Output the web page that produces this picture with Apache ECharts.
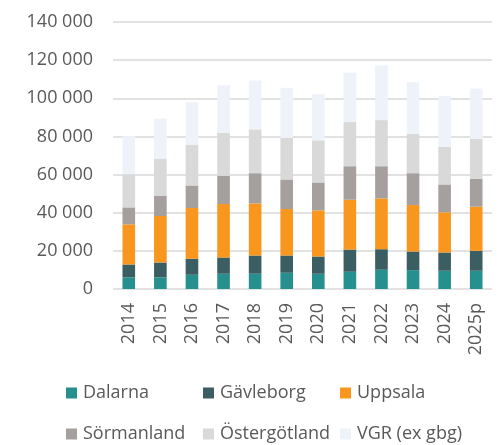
<!DOCTYPE html>
<html>
<head>
<meta charset="utf-8">
<script src="https://cdn.jsdelivr.net/npm/echarts@6/dist/echarts.min.js"></script>
<style>html,body{margin:0;padding:0;background:#fff;}#c{width:501px;height:445px;}</style>
</head>
<body>
<div id="c"></div>
<script>
var categories = ['2014','2015','2016','2017','2018','2019','2020','2021','2022','2023','2024','2025p'];
var dalarna      = [6100, 6100, 7470, 7990, 7990, 8510, 7990, 9030, 10080, 9900, 9560, 9560];
var gavleborg    = [6750, 7800, 8350, 8530, 9570, 9050, 9050, 11660, 10790, 9750, 9570, 10440];
var uppsala      = [21050, 24370, 26630, 28030, 27330, 24370, 24200, 26110, 26630, 24370, 21070, 23150];
var sormanland   = [8900, 10600, 11840, 14790, 15840, 15490, 14620, 17580, 16880, 16710, 14620, 14620];
var ostergotland = [17400, 19500, 21230, 22450, 22980, 21760, 22100, 23150, 24190, 20540, 19670, 20890];
var vgr          = [20000, 20900, 22460, 25070, 25590, 26290, 24200, 25940, 28720, 27150, 26630, 26460];
var seriesNames = ['Dalarna','Gävleborg','Uppsala','Sörmanland','Östergötland','VGR (ex gbg)'];
var seriesData = [dalarna, gavleborg, uppsala, sormanland, ostergotland, vgr];
var colors = ['#26908f','#3b5e62','#f8961d','#a5a09e','#d9d9d9','#eef2f9'];

var FONT = '"Open Sans", sans-serif';
var chart = echarts.init(document.getElementById('c'), null, {renderer:'canvas'});
function fmt(v){ return String(v).replace(/\B(?=(\d{3})+(?!\d))/g, ' '); }
var legendLefts = [66, 203, 340, 66, 203, 340];
var legendTops = [383, 383, 383, 424, 424, 424];
var legends = seriesNames.map(function(n, i){
  return {
    data: [n], left: legendLefts[i], top: legendTops[i], padding: 0,
    itemWidth: 11, itemHeight: 11, itemGap: 0, icon: 'rect', selectedMode: false,
    textStyle: {fontFamily: FONT, fontSize: 18, color: '#595959', lineHeight: 20, padding: [0,0,0,1]}
  };
});
chart.setOption({
  animation: false,
  color: colors,
  grid: {left: 113, right: 9, top: 22, bottom: 156},
  legend: legends,
  xAxis: {
    type: 'category', data: categories,
    axisLine: {show: false}, axisTick: {show: false},
    axisLabel: {rotate: 90, margin: 14, fontFamily: FONT, fontSize: 18, color: '#595959'}
  },
  yAxis: {
    type: 'value', min: 0, max: 140000, interval: 20000,
    axisLine: {show: false}, axisTick: {show: false},
    axisLabel: {margin: 20, fontFamily: FONT, fontSize: 18, color: '#595959', formatter: fmt},
    splitLine: {lineStyle: {color: '#d9d9d9', width: 1.5}}
  },
  series: seriesNames.map(function(n, i){
    return {name: n, type: 'bar', stack: 'total', barWidth: '40%', data: seriesData[i]};
  })
});
</script>
</body>
</html>
